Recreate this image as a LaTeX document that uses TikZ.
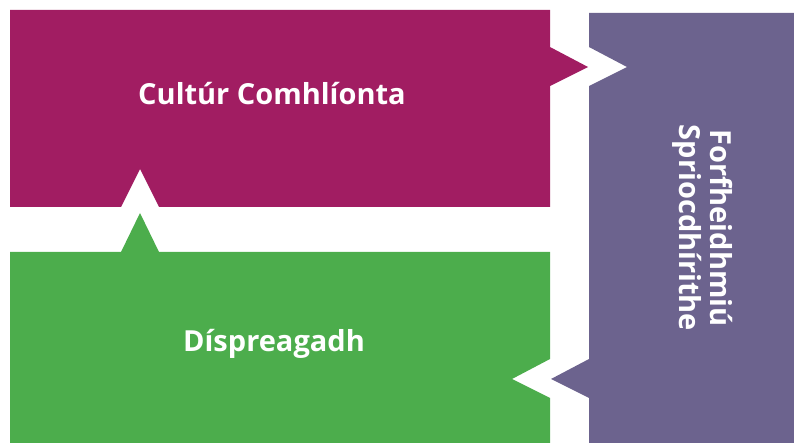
\documentclass[tikz,border=0pt]{standalone}
\usepackage{fontspec}
\setmainfont{Open Sans}
\definecolor{magentabox}{RGB}{161,29,98}
\definecolor{purplebox}{RGB}{108,99,142}
\definecolor{greenbox}{RGB}{76,173,76}
\begin{document}
\begin{tikzpicture}[x=1pt,y=-1pt,
  label/.style={text=white,font=\fontsize{29}{31}\selectfont\bfseries,align=center,inner sep=0pt}]
\useasboundingbox (0,0) rectangle (794,443);
% magenta box with right arrow and bottom notch
\fill[magentabox] (10,10) -- (550,10) -- (550,47) -- (588,67) -- (550,86) -- (550,207)
  -- (159,207) -- (140,169) -- (121,207) -- (10,207) -- cycle;
% green box with top arrow and right notch
\fill[greenbox] (10,252) -- (121,252) -- (140,213) -- (159,252) -- (550,252) -- (550,359)
  -- (512,379) -- (550,398) -- (550,443) -- (10,443) -- cycle;
% purple box with left notch (top) and left arrow (bottom)
\fill[purplebox] (589,13) -- (794,13) -- (794,443) -- (589,443) -- (589,398) -- (551,379)
  -- (589,359) -- (589,86) -- (627,67) -- (589,47) -- cycle;
\node[label] (cultur) at (272,94) {Cultúr Comhlíonta};
\node[label] (dispreagadh) at (274,344) {Díspreagadh};
\node[label,rotate=-90] (forf) at (703,228) {Forfheidhmiú\\Spriocdhírithe};
\end{tikzpicture}
\end{document}
